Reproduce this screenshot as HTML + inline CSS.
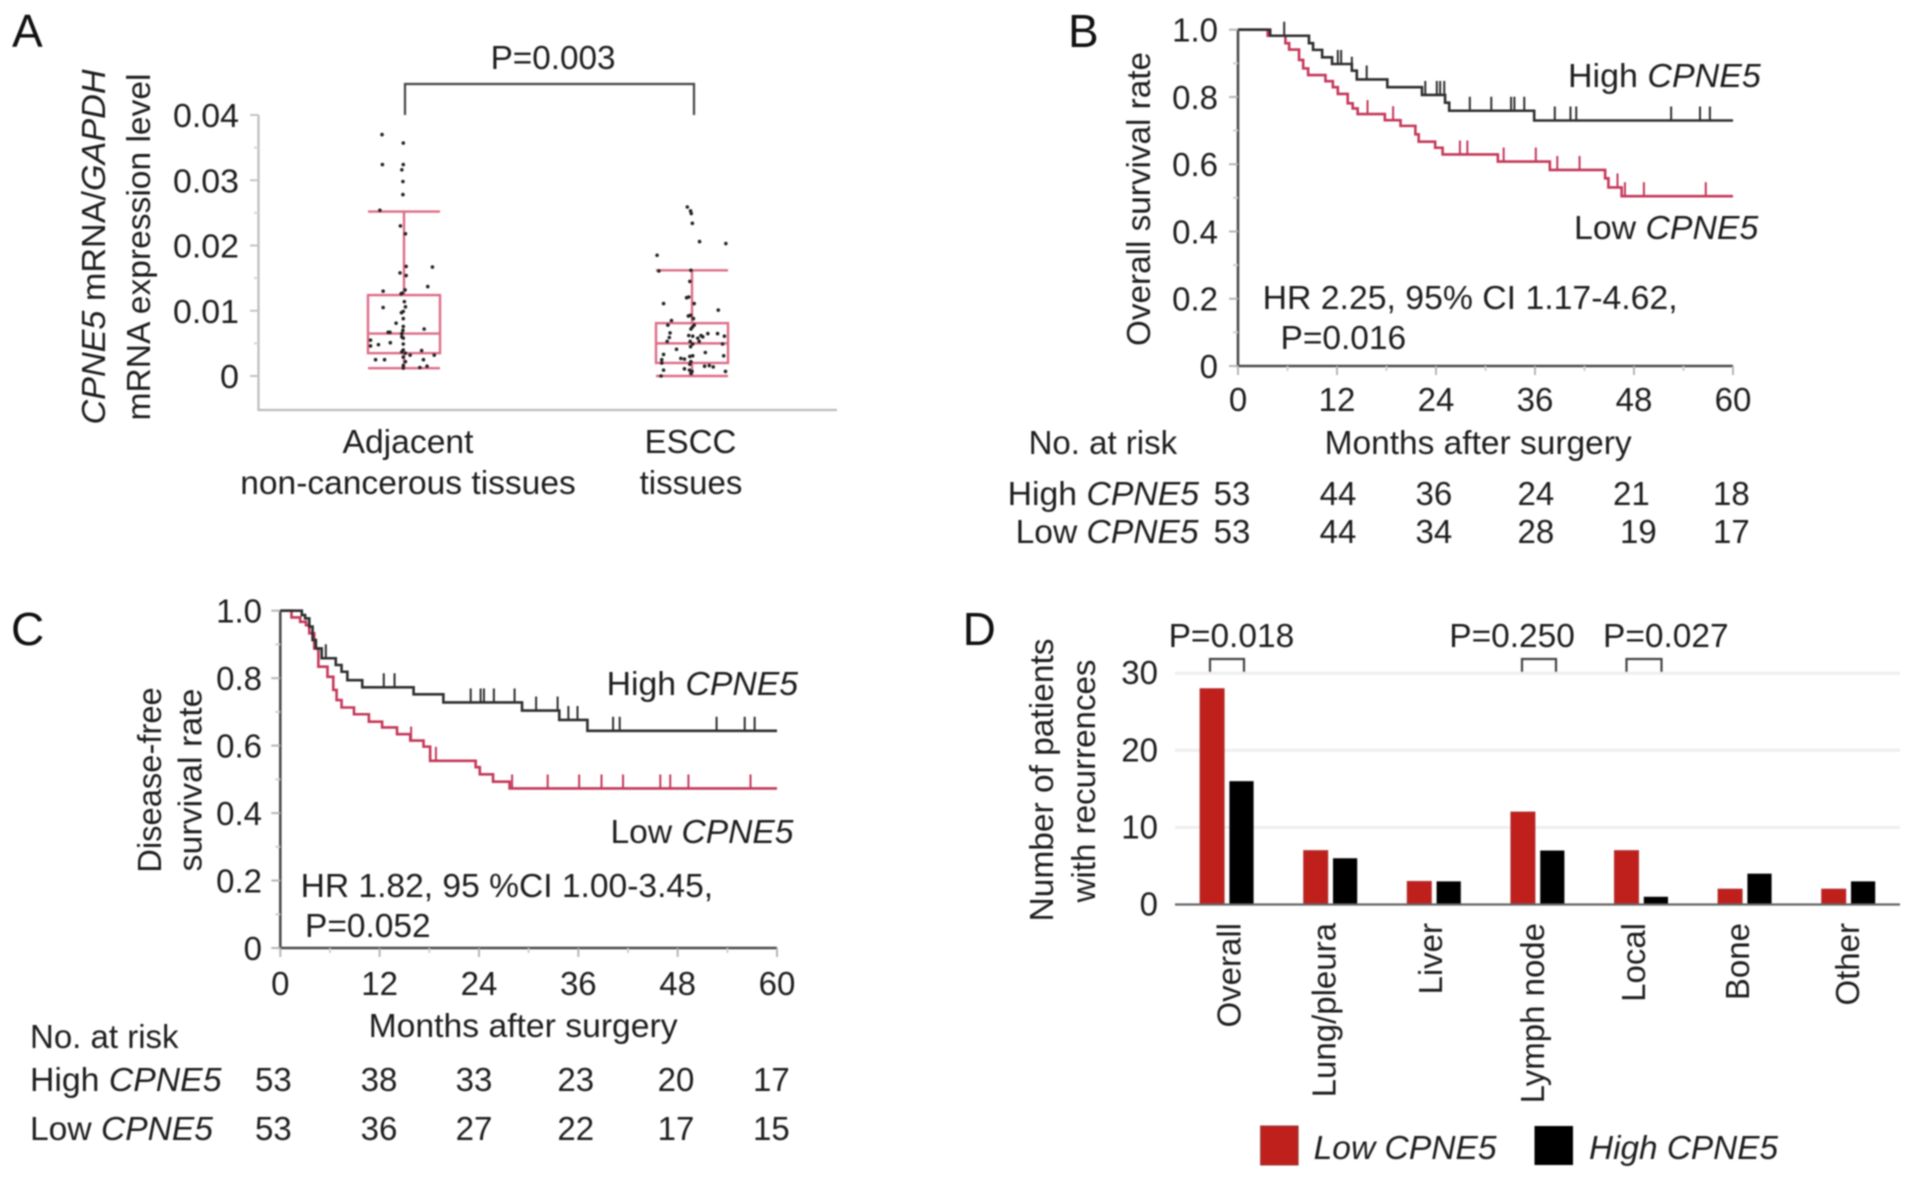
<!DOCTYPE html>
<html lang="en">
<head>
<meta charset="utf-8">
<title>CPNE5 expression and survival figure</title>
<style>
html,body{margin:0;padding:0;background:#fff;}
svg{display:block;filter:blur(0.85px);}
text{font-family:"Liberation Sans",sans-serif;font-size:33px;fill:#1e1e1e;}
.it{font-style:italic;}
.panel{font-size:46px;fill:#111;}
</style>
</head>
<body>
<svg id="fig" width="1913" height="1179" viewBox="0 0 1913 1179" xmlns="http://www.w3.org/2000/svg">
  <rect width="1913" height="1179" fill="#fff"/>

  <!-- Panel A -->
  <g id="panelA">
    <text class="panel" x="12" y="47">A</text>
    <text x="490.6" y="69" textLength="125" lengthAdjust="spacingAndGlyphs">P=0.003</text>
    <path d="M405 115V84H694 V115" fill="none" stroke="#444" stroke-width="2.2"/>
    <text transform="translate(105,247) rotate(-90)" text-anchor="middle" textLength="355" lengthAdjust="spacingAndGlyphs"><tspan class="it">CPNE5</tspan> mRNA/<tspan class="it">GAPDH</tspan></text>
    <text transform="translate(150,247) rotate(-90)" text-anchor="middle" textLength="347" lengthAdjust="spacingAndGlyphs">mRNA expression level</text>
    <text x="408" y="453" text-anchor="middle" textLength="131" lengthAdjust="spacingAndGlyphs">Adjacent</text>
    <text x="408" y="494" text-anchor="middle" textLength="335.5" lengthAdjust="spacingAndGlyphs">non-cancerous tissues</text>
    <text x="690.5" y="453" text-anchor="middle">ESCC</text>
    <text x="691" y="494" text-anchor="middle">tissues</text>
  </g>

  <!-- Panel B -->
  <g id="panelB">
    <text class="panel" x="1068" y="47">B</text>
    <text transform="translate(1150,199) rotate(-90)" text-anchor="middle" textLength="294" lengthAdjust="spacingAndGlyphs">Overall survival rate</text>
    <text x="1568" y="87" textLength="192.8" lengthAdjust="spacingAndGlyphs">High <tspan class="it">CPNE5</tspan></text>
    <text x="1574" y="239" textLength="184.3" lengthAdjust="spacingAndGlyphs">Low <tspan class="it">CPNE5</tspan></text>
    <text x="1262.6" y="309" textLength="415" lengthAdjust="spacingAndGlyphs">HR 2.25, 95% CI 1.17-4.62,</text>
    <text x="1280.5" y="349" textLength="125.6" lengthAdjust="spacingAndGlyphs">P=0.016</text>
    <text x="1324.6" y="454" textLength="307" lengthAdjust="spacingAndGlyphs">Months after surgery</text>
    <text x="1028.6" y="454">No. at risk</text>
    <g>
      <text x="1007.6" y="505" textLength="191.5" lengthAdjust="spacingAndGlyphs">High <tspan class="it">CPNE5</tspan></text>
      <text x="1213.6" y="505">53</text><text x="1319.6" y="505">44</text><text x="1415.5" y="505">36</text><text x="1517.5" y="505">24</text><text x="1613" y="505">21</text><text x="1713" y="505">18</text>
    </g>
    <g>
      <text x="1015.6" y="543" textLength="183" lengthAdjust="spacingAndGlyphs">Low <tspan class="it">CPNE5</tspan></text>
      <text x="1213.6" y="543">53</text><text x="1319.6" y="543">44</text><text x="1415.5" y="543">34</text><text x="1517.5" y="543">28</text><text x="1620" y="543">19</text><text x="1713" y="543">17</text>
    </g>
  </g>

  <!-- Panel C -->
  <g id="panelC">
    <text class="panel" x="11" y="645">C</text>
    <text transform="translate(161,780) rotate(-90)" text-anchor="middle" textLength="185.5" lengthAdjust="spacingAndGlyphs">Disease-free</text>
    <text transform="translate(201.5,780) rotate(-90)" text-anchor="middle" textLength="183" lengthAdjust="spacingAndGlyphs">survival rate</text>
    <text x="606.6" y="695" textLength="191.5" lengthAdjust="spacingAndGlyphs">High <tspan class="it">CPNE5</tspan></text>
    <text x="610.5" y="843" textLength="183" lengthAdjust="spacingAndGlyphs">Low <tspan class="it">CPNE5</tspan></text>
    <text x="300.6" y="897" textLength="412.5" lengthAdjust="spacingAndGlyphs">HR 1.82, 95 %CI 1.00-3.45,</text>
    <text x="305" y="937" textLength="125.6" lengthAdjust="spacingAndGlyphs">P=0.052</text>
    <text x="368.6" y="1037" textLength="309" lengthAdjust="spacingAndGlyphs">Months after surgery</text>
    <text x="30" y="1048">No. at risk</text>
    <g>
      <text x="30" y="1091" textLength="191.5" lengthAdjust="spacingAndGlyphs">High <tspan class="it">CPNE5</tspan></text>
      <text x="255" y="1091">53</text><text x="360.6" y="1091">38</text><text x="455.6" y="1091">33</text><text x="557.4" y="1091">23</text><text x="657.6" y="1091">20</text><text x="753" y="1091">17</text>
    </g>
    <g>
      <text x="30" y="1140" textLength="183" lengthAdjust="spacingAndGlyphs">Low <tspan class="it">CPNE5</tspan></text>
      <text x="255" y="1140">53</text><text x="360.6" y="1140">36</text><text x="455.6" y="1140">27</text><text x="557.4" y="1140">22</text><text x="657.6" y="1140">17</text><text x="753" y="1140">15</text>
    </g>
  </g>

  <!-- Panel D -->
  <g id="panelD">
    <text class="panel" x="962.6" y="645">D</text>
    <text transform="translate(1053,780) rotate(-90)" text-anchor="middle" textLength="283" lengthAdjust="spacingAndGlyphs">Number of patients</text>
    <text transform="translate(1095,781) rotate(-90)" text-anchor="middle" textLength="243" lengthAdjust="spacingAndGlyphs">with recurrences</text>
    <text x="1168.6" y="647" textLength="125.6" lengthAdjust="spacingAndGlyphs">P=0.018</text>
    <text x="1449.3" y="647" textLength="125.6" lengthAdjust="spacingAndGlyphs">P=0.250</text>
    <text x="1603" y="647" textLength="125.6" lengthAdjust="spacingAndGlyphs">P=0.027</text>
    <path d="M1210 674V659H1244V674" fill="none" stroke="#444" stroke-width="2.2"/>
    <path d="M1522 674V659H1556V674" fill="none" stroke="#444" stroke-width="2.2"/>
    <path d="M1626.5 674V659H1661.5V674" fill="none" stroke="#444" stroke-width="2.2"/>
    <rect x="1260.6" y="1126" width="37.5" height="39" fill="#c0201c" stroke="#8e3a38" stroke-width="1"/>
    <text class="it" x="1313.6" y="1159" textLength="183" lengthAdjust="spacingAndGlyphs">Low CPNE5</text>
    <rect x="1534.5" y="1126" width="38.5" height="39" fill="#000"/>
    <text class="it" x="1589" y="1159" textLength="189" lengthAdjust="spacingAndGlyphs">High CPNE5</text>
  </g>
</svg>

<script>
// ---------- Panel A data ----------
const adjacentValues = [.0370,.0357,.0324,.0324,.0316,.0298,.0278,.0254,.0230,.0218,.0168,.0167,.0158,.0154,.0137,.0130,.0132,.0127,.0126,.0114,.0106,.0105,.0099,.0097,.0088,.0081,.0076,.0070,.0067,.0067,.0065,.0072,.0060,.0055,.0058,.0051,.0046,.0048,.0049,.0040,.0039,.0037,.0035,.0032,.0032,.0029,.0025,.0025,.0025,.0016,.0013,.0015,.0022,.0012];
const adjacentJitter = [-.61,-.02,-.6,-.02,-.06,-.03,-.03,-.67,-.1,.04,.06,.79,-.11,.06,.66,-.58,.03,-.05,-.08,.01,.04,-.58,-.02,-.07,-.02,-.22,-.02,-.03,-.44,-.39,-.06,.56,-.06,-.93,-.02,-.38,-.93,-.71,-.02,-.02,.49,-.06,.04,.17,.84,-.02,-.79,-.54,.54,-.02,.44,.64,.04,-.02];
const escValues = [.0259,.0253,.0249,.0234,.0206,.0203,.0185,.0161,.0162,.0145,.0120,.0121,.0111,.0111,.0101,.0092,.0093,.0085,.0088,.0078,.0078,.0075,.0072,.0066,.0059,.0062,.0061,.0065,.0065,.0061,.0060,.0062,.0058,.0053,.0053,.0049,.0053,.0049,.0041,.0045,.0036,.0033,.0031,.0030,.0031,.0025,.0027,.0026,.0022,.0020,.0018,.0015,.0016,.0014,.0011,.0009,.0009,.0007,.0007,.0004,.0000];
const escJitter = [-.13,-.04,-.02,.01,.21,.94,-.97,-.92,-.03,-.06,-.15,-.09,-.79,.06,.73,-.1,-.04,-.57,.04,-.67,.06,.01,-.03,-.61,-.63,-.09,.02,.44,.71,.9,.3,.25,.16,-.69,-.05,.02,.2,.85,-.43,-.04,.37,-.79,.02,-.06,.88,-.84,-.31,-.21,-.03,-.84,-.06,.35,.48,.59,-.21,-.79,-.07,0,.93,-.03,-.86];
const boxStats = [[.0012,.0035,.0065,.0124,.0252],[.0000,.0020,.0050,.0081,.0162]];
const yTicksA = [0,.01,.02,.03,.04];
const yTickLabelsA = ['0','0.01','0.02','0.03','0.04'];
const yMinorTicksA = [.005,.015,.025,.035];

// ---------- Panel B data ----------
const highTimesB = [3.9,8.6,9.1,10.2,11.4,13.8,14.4,18.1,22.3,25.1,25.6,35.9];
const highSurvB = [.982,.96,.94,.918,.898,.878,.852,.829,.806,.783,.759,.73];
const highCensorB = [5.6,12.1,12.5,13.8,15.6,22.7,24.1,24.5,25,28.1,30.7,33.1,33.5,34.7,38.4,40.3,41,52.5,56,57.2];
const lowTimesB = [3.6,5.75,6.2,7.4,7.9,8.5,10.6,11.5,12.1,13.3,13.9,14.5,17.8,19.7,21.5,21.9,23.9,24.8,31.5,37.8,44.5,44.9,46.5];
const lowSurvB = [.982,.96,.941,.91,.885,.865,.847,.829,.809,.781,.766,.749,.731,.714,.689,.667,.649,.629,.608,.583,.558,.531,.505];
const lowCensorB = [15.7,18.8,26.9,27.8,32.2,36.1,38.7,41.4,46,46.9,49.2,56.7];

// ---------- Panel C data ----------
const highTimesC = [2.6,3,3.5,3.9,4.3,5,6.7,7.4,8.1,9.9,16.1,19.7,29.2,33.7,37.1];
const highSurvC = [.987,.977,.953,.913,.888,.859,.839,.819,.794,.773,.752,.728,.704,.676,.644];
const highCensorC = [5.5,12.5,13.8,23,24.2,24.6,25.8,28.3,30.9,33.5,34.8,35.9,40.2,41,52.7,56.1,57.3];
const lowTimesC = [1.35,2.4,3.1,3.5,4.1,4.6,5.7,6.4,6.8,7.4,8.9,10.7,12.3,14.1,15.7,17.3,18.1,23.6,24.1,25.7,27.7];
const lowSurvC = [.98,.967,.957,.933,.888,.834,.804,.765,.735,.713,.693,.671,.654,.634,.615,.597,.555,.536,.515,.493,.473];
const lowCensorC = [15.8,18.8,28,32.3,36.1,38.8,41.4,45.9,47.1,49.3,56.8];

const kmXTicks = [0,12,24,36,48,60];
const kmXMinor = [6,18,30,42,54];
const kmYTicks = [0,.2,.4,.6,.8,1];
const kmYTickLabels = ['0','0.2','0.4','0.6','0.8','1.0'];
const kmYMinor = [.1,.3,.5,.7,.9];

// ---------- Panel D data ----------
const recurrenceSites = ['Overall','Lung/pleura','Liver','Lymph node','Local','Bone','Other'];
const lowRecurrences = [28,7,3,12,7,2,2];
const highRecurrences = [16,6,3,7,1,4,3];
const yTicksD = [0,10,20,30];

// ---------- helpers ----------
const NS = 'http://www.w3.org/2000/svg';
function mk(parent, tag, attrs, txt) {
  const el = document.createElementNS(NS, tag);
  for (const k in attrs) el.setAttribute(k, attrs[k]);
  if (txt !== undefined) el.textContent = txt;
  parent.appendChild(el);
  return el;
}

// ---------- Panel A ----------
(function () {
  const g = document.getElementById('panelA');
  const yA = v => 376 - v * 6525;
  const centers = [404, 692];
  const halfW = 36;
  const axis = mk(g, 'path', {d: 'M258.5 ' + yA(.04) + 'V410H837', fill: 'none', stroke: '#bdbdbd', 'stroke-width': 2.2});
  
  
  yTicksA.forEach((v, i) => {
    const t = mk(g, 'line', {x1: 250, x2: 258.5, y1: yA(v), y2: yA(v), stroke: '#c4c4c4', 'stroke-width': 2});
    
    
    const l = mk(g, 'text', {x: 239, y: yA(v) + 12, 'text-anchor': 'end', textLength: (v === 0 ? 19 : 66), lengthAdjust: 'spacingAndGlyphs'}, yTickLabelsA[i]);
    
    
  });
  yMinorTicksA.forEach(v => {
    const t = mk(g, 'line', {x1: 254, x2: 258.5, y1: yA(v), y2: yA(v), stroke: '#d4d4d4', 'stroke-width': 2});
    
    
  });
  boxStats.forEach((s, i) => {
    const cx = centers[i];
    const col = '#dd6d87';
    const b = mk(g, 'path', {
      d: 'M' + (cx - halfW) + ' ' + yA(s[0]) + 'H' + (cx + halfW) +
         'M' + cx + ' ' + yA(s[0]) + 'V' + yA(s[1]) +
         'M' + cx + ' ' + yA(s[3]) + 'V' + yA(s[4]) +
         'M' + (cx - halfW) + ' ' + yA(s[4]) + 'H' + (cx + halfW) +
         'M' + (cx - halfW) + ' ' + yA(s[2]) + 'H' + (cx + halfW),
      fill: 'none', stroke: col, 'stroke-width': 2.4});
    
    
    const r = mk(g, 'rect', {x: cx - halfW, y: yA(s[3]), width: 2 * halfW, height: yA(s[1]) - yA(s[3]), fill: 'none', stroke: col, 'stroke-width': 2.4});
    
    
  });
  const sets = [[adjacentValues, adjacentJitter, 'adjacent-point'], [escValues, escJitter, 'escc-point']];
  sets.forEach((set, i) => {
    set[0].forEach((v, j) => {
      const p = mk(g, 'circle', {cx: centers[i] + set[1][j] * halfW, cy: yA(v), r: 1.8, fill: '#222'});
      
      
    });
  });
})();

// ---------- Kaplan-Meier ----------
function drawKM(groupId, x0, x60, y0, y1, labelRight, tickBaseline, high, low) {
  const g = document.getElementById(groupId);
  const x = t => x0 + t * (x60 - x0) / 60;
  const y = s => y0 - s * (y0 - y1);
  const axis = mk(g, 'path', {d: 'M' + x0 + ' ' + y1 + 'V' + y0 + 'H' + x60, fill: 'none', stroke: '#4a4a4a', 'stroke-width': 2.6});
  
  
  kmYTicks.forEach((s, i) => {
    const t = mk(g, 'line', {x1: x0 - 9, x2: x0, y1: y(s), y2: y(s), stroke: '#b5b5b5', 'stroke-width': 2});
    
    
    const l = mk(g, 'text', {x: labelRight, y: y(s) + 12, 'text-anchor': 'end'}, kmYTickLabels[i]);
    
    
  });
  kmYMinor.forEach(s => {
    const t = mk(g, 'line', {x1: x0 - 5, x2: x0, y1: y(s), y2: y(s), stroke: '#cfcfcf', 'stroke-width': 2});
    
    
  });
  kmXTicks.forEach(v => {
    const t = mk(g, 'line', {x1: x(v), x2: x(v), y1: y0, y2: y0 + 9, stroke: '#b5b5b5', 'stroke-width': 2});
    
    
    const l = mk(g, 'text', {x: x(v), y: tickBaseline, 'text-anchor': 'middle'}, String(v));
    
    
  });
  kmXMinor.forEach(v => {
    const t = mk(g, 'line', {x1: x(v), x2: x(v), y1: y0, y2: y0 + 5, stroke: '#cfcfcf', 'stroke-width': 2});
    
    
  });
  const series = [[low, '#c4385a', 'low-cpne5'], [high, '#2e2e2e', 'high-cpne5']];
  series.forEach(sr => {
    const times = sr[0][0], surv = sr[0][1], cens = sr[0][2];
    let d = 'M' + x(0) + ' ' + y(1);
    times.forEach((t, i) => { d += 'H' + x(t) + 'V' + y(surv[i]); });
    d += 'H' + x(60);
    const line = mk(g, 'path', {d: d, fill: 'none', stroke: sr[1], 'stroke-width': 2.6});
    
    
    cens.forEach(c => {
      let s = 1;
      times.forEach((t, i) => { if (t <= c) s = surv[i]; });
      const tk = mk(g, 'line', {x1: x(c), x2: x(c), y1: y(s), y2: y(s) - 14, stroke: sr[1], 'stroke-width': 2});
      
      
    });
  });
}
drawKM('panelB', 1238, 1733, 366, 29.7, 1218, 411,
  [highTimesB, highSurvB, highCensorB], [lowTimesB, lowSurvB, lowCensorB]);
drawKM('panelC', 280.3, 777, 948, 610.7, 262, 995,
  [highTimesC, highSurvC, highCensorC], [lowTimesC, lowSurvC, lowCensorC]);

// ---------- Panel D ----------
(function () {
  const g = document.getElementById('panelD');
  const yD = v => 904.5 - v * 7.71;
  const barW = 24.2, gap = 5.2, step = 103.6, start = 1200;
  const baselines = [1240.5, 1335.5, 1442, 1544, 1645, 1749, 1859];
  yTicksD.forEach(v => {
    if (v > 0) {
      const gl = mk(g, 'line', {x1: 1175, x2: 1900, y1: yD(v), y2: yD(v), stroke: '#eee', 'stroke-width': 3});
      
      
    }
    const l = mk(g, 'text', {x: 1158, y: yD(v) + 11, 'text-anchor': 'end'}, String(v));
    
    
  });
  recurrenceSites.forEach((site, i) => {
    const x0 = start + i * step;
    const a = mk(g, 'rect', {x: x0, y: yD(lowRecurrences[i]), width: barW, height: yD(0) - yD(lowRecurrences[i]), fill: '#c0201c', stroke: '#a33', 'stroke-width': .8});
    
    
    const b = mk(g, 'rect', {x: x0 + barW + gap, y: yD(highRecurrences[i]), width: barW, height: yD(0) - yD(highRecurrences[i]), fill: '#000'});
    
    
    const l = mk(g, 'text', {transform: 'translate(' + baselines[i] + ',923) rotate(-90)', 'text-anchor': 'end'}, site);
    
    
  });
  const base = mk(g, 'line', {x1: 1175, x2: 1900, y1: yD(0), y2: yD(0), stroke: '#666', 'stroke-width': 2.2});
  
  
})();
</script>
</body>
</html>
